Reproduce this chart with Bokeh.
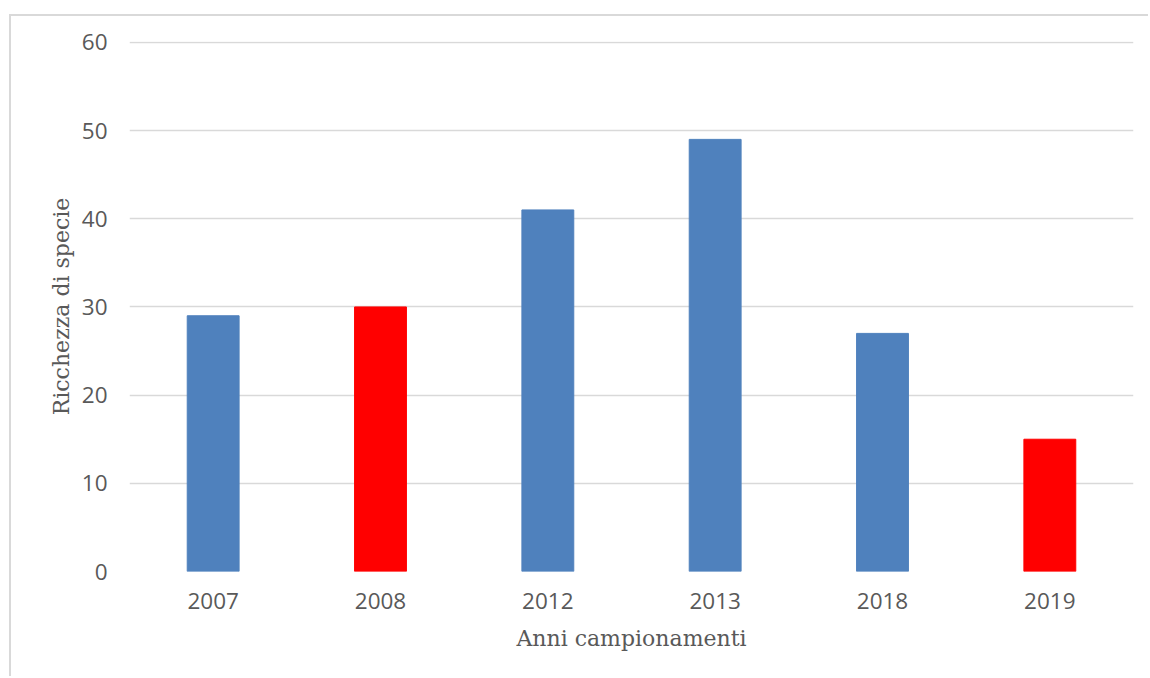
from bokeh.plotting import figure
from bokeh.models import ColumnDataSource, FactorRange, Range1d, SingleIntervalTicker
from bokeh.embed import file_html
from bokeh.resources import INLINE

# Species richness per sampling year
anni = ["2007", "2008", "2012", "2013", "2018", "2019"]
ricchezza = [29, 30, 41, 49, 27, 15]
colori = ["#4F81BD", "#FF0000", "#4F81BD", "#4F81BD", "#4F81BD", "#FF0000"]

source = ColumnDataSource(data=dict(anni=anni, ricchezza=ricchezza, colori=colori))

TEXT = "#595959"
GRID = "#d9d9d9"

p = figure(
    x_range=FactorRange(*anni, range_padding=0),
    y_range=Range1d(0, 60.1),
    width=1139, height=662,
    output_backend="svg", toolbar_location=None,
    min_border_left=118, min_border_right=17,
    min_border_top=25, min_border_bottom=107,
    background_fill_color="white", border_fill_color="white",
)
p.margin = (14, 0, 0, 9)
p.styles = {"border-top": "2px solid #d9d9d9", "border-left": "2px solid #d9d9d9"}

p.vbar(x="anni", top="ricchezza", width=0.31, color="colori", source=source)

p.outline_line_color = None
p.xgrid.grid_line_color = None
p.ygrid.grid_line_color = GRID
p.ygrid.grid_line_width = 1.5
p.yaxis.ticker = SingleIntervalTicker(interval=10)

for ax in (p.xaxis, p.yaxis):
    ax.axis_line_color = None
    ax.major_tick_line_color = None
    ax.minor_tick_line_color = None
    ax.major_label_text_color = TEXT
    ax.major_label_text_font = "Open Sans"
    ax.major_label_text_font_size = "22.5px"
    ax.axis_label_text_color = TEXT
    ax.axis_label_text_font = "DejaVu Serif"
    ax.axis_label_text_font_style = "normal"
    ax.axis_label_text_font_size = "22px"

p.xaxis.axis_label = "Anni campionamenti"
p.yaxis.axis_label = "Ricchezza di specie"
p.xaxis.major_label_standoff = 15
p.yaxis.major_label_standoff = 16
p.xaxis.axis_label_standoff = 14
p.yaxis.axis_label_standoff = 5

open("out.html", "w").write(file_html(p, INLINE))
